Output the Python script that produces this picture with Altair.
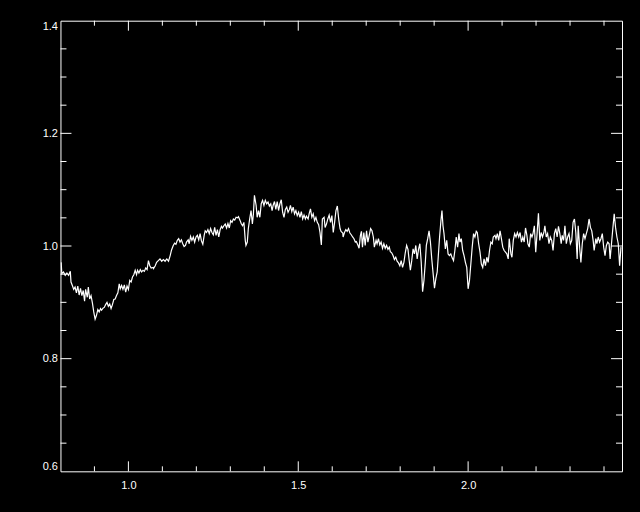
import altair as alt
import pandas as pd

# ---- data (wavelength, relative flux) ----
wl_1 = [0.802,0.804,0.809,0.814,0.819,0.824,0.829,0.831,0.835,0.839,0.843,0.847,0.851,0.855,0.859,0.863,0.867,0.871,0.874,0.879,0.882,0.886,0.890,0.894,0.898,0.902,0.906,0.910,0.914,0.918,0.921,0.926,0.929,0.933,0.937,0.941,0.945,0.949,0.953,0.957,0.961,0.965,0.969,0.973,0.976,0.980,0.984,0.988,0.992,0.996,1.000,1.004,1.008,1.012,1.016,1.020,1.024,1.027,1.031,1.035,1.039,1.043,1.047,1.051,1.055,1.059,1.063,1.067,1.073]
fx_1 = [0.971,0.951,0.954,0.948,0.952,0.948,0.955,0.936,0.930,0.923,0.927,0.917,0.929,0.913,0.925,0.912,0.921,0.902,0.923,0.909,0.927,0.906,0.912,0.899,0.883,0.870,0.877,0.887,0.883,0.889,0.886,0.890,0.891,0.896,0.900,0.893,0.897,0.889,0.896,0.905,0.906,0.912,0.917,0.933,0.924,0.930,0.923,0.931,0.918,0.929,0.923,0.939,0.936,0.945,0.949,0.957,0.949,0.957,0.952,0.958,0.954,0.957,0.955,0.961,0.958,0.974,0.965,0.961,0.962]

wl_2 = [1.074,1.079,1.083,1.088,1.093,1.098,1.103,1.108,1.113,1.118,1.123,1.127,1.132,1.136,1.140,1.144,1.148,1.152,1.156,1.160,1.164,1.168,1.171,1.176,1.179,1.183,1.187,1.191,1.195,1.199,1.203,1.207,1.211,1.215,1.219,1.223,1.226,1.230,1.234,1.238,1.242,1.246,1.250,1.254,1.258,1.262,1.266,1.270,1.274,1.277,1.281,1.285,1.289,1.293,1.297,1.301,1.305,1.309,1.313,1.317,1.321,1.324,1.329,1.332,1.336,1.340,1.344,1.346,1.350]
fx_2 = [0.960,0.965,0.971,0.974,0.977,0.973,0.976,0.973,0.977,0.973,0.983,0.993,1.001,1.005,1.003,1.010,1.013,1.007,1.011,1.004,0.999,1.001,1.007,1.011,1.004,1.017,1.010,1.016,1.007,1.016,1.019,1.011,1.022,1.009,1.003,1.019,1.027,1.024,1.029,1.022,1.031,1.024,1.020,1.033,1.019,1.029,1.016,1.029,1.035,1.032,1.036,1.039,1.032,1.040,1.032,1.045,1.042,1.048,1.046,1.051,1.050,1.052,1.045,1.040,1.036,1.042,1.010,1.001,1.007]

wl_3 = [1.353,1.357,1.361,1.365,1.368,1.371,1.376,1.379,1.383,1.387,1.391,1.395,1.399,1.403,1.407,1.411,1.415,1.419,1.423,1.426,1.430,1.434,1.438,1.442,1.446,1.450,1.454,1.458,1.462,1.466,1.470,1.474,1.477,1.481,1.485,1.489,1.493,1.497,1.501,1.505,1.509,1.513,1.517,1.521,1.524,1.529,1.532,1.536,1.540,1.544,1.548,1.552,1.556,1.560,1.564,1.568,1.571,1.576,1.579,1.583,1.587,1.591,1.595,1.599,1.603,1.607,1.611,1.615,1.619,1.623,1.626,1.631]
fx_3 = [1.031,1.048,1.063,1.039,1.057,1.090,1.072,1.051,1.063,1.051,1.075,1.081,1.072,1.081,1.075,1.078,1.071,1.075,1.063,1.072,1.079,1.065,1.079,1.063,1.075,1.082,1.060,1.051,1.065,1.069,1.060,1.065,1.072,1.061,1.069,1.057,1.063,1.054,1.060,1.051,1.061,1.048,1.055,1.048,1.053,1.048,1.057,1.066,1.051,1.057,1.045,1.051,1.042,1.038,1.024,1.002,1.048,1.051,1.033,1.039,1.048,1.055,1.042,1.054,1.024,1.042,1.063,1.071,1.048,1.031,1.026,1.023]

wl_4 = [1.632,1.636,1.640,1.644,1.648,1.652,1.656,1.660,1.664,1.668,1.671,1.676,1.679,1.683,1.686,1.689,1.693,1.697,1.701,1.705,1.709,1.713,1.717,1.721,1.724,1.729,1.732,1.736,1.740,1.744,1.748,1.752,1.756,1.760,1.764,1.768,1.771,1.775,1.779,1.783,1.787,1.791,1.795,1.799,1.803,1.807,1.811,1.815,1.819,1.823,1.826,1.830,1.834,1.838,1.842,1.846,1.850,1.854,1.858,1.862,1.866,1.870,1.874,1.877,1.881,1.885,1.889,1.893,1.897,1.901,1.905,1.909]
fx_4 = [1.016,1.024,1.029,1.026,1.031,1.023,1.020,1.016,1.013,1.007,1.008,1.001,0.996,1.019,1.026,0.998,1.024,1.001,1.027,1.007,1.019,1.031,1.027,1.016,0.998,1.010,1.004,1.013,1.002,1.007,0.996,1.004,0.996,1.001,0.994,0.998,0.990,0.988,0.983,0.976,0.980,0.973,0.970,0.965,0.974,0.962,0.971,0.988,1.001,0.994,0.977,0.957,0.974,0.995,0.986,1.001,0.977,0.994,1.004,0.971,0.919,0.939,0.971,1.001,1.013,1.027,1.007,0.977,0.951,0.925,0.942,0.954]

wl_5 = [1.912,1.916,1.920,1.923,1.926,1.929,1.933,1.937,1.941,1.945,1.949,1.953,1.957,1.961,1.965,1.969,1.973,1.976,1.980,1.984,1.988,1.992,1.996,2.000,2.004,2.008,2.012,2.016,2.020,2.024,2.027,2.031,2.035,2.039,2.043,2.047,2.051,2.055,2.059,2.063,2.067,2.071,2.074,2.079,2.082,2.086,2.090,2.094,2.098,2.102,2.106,2.110,2.114,2.118,2.121,2.126,2.129,2.133,2.137,2.141,2.145,2.149,2.153,2.157,2.161,2.165,2.169,2.173,2.176,2.180,2.184,2.188]
fx_5 = [0.980,1.016,1.045,1.063,1.036,1.022,0.995,1.010,0.986,0.983,0.986,0.979,0.974,0.992,1.016,0.998,1.022,1.007,1.013,0.992,0.983,0.971,0.962,0.924,0.939,0.968,0.998,1.022,1.016,1.026,1.024,1.004,0.989,0.968,0.962,0.977,0.965,0.980,0.971,0.992,1.007,1.004,1.016,1.019,1.013,1.022,1.010,1.027,1.013,0.998,0.992,0.989,0.986,0.977,1.013,0.986,0.980,1.010,1.022,1.016,1.024,1.016,1.024,1.007,1.016,1.007,1.032,1.019,1.004,0.998,1.022,1.016]

wl_6 = [2.191,2.195,2.199,2.203,2.207,2.211,2.215,2.219,2.223,2.226,2.230,2.234,2.238,2.242,2.246,2.250,2.254,2.258,2.262,2.266,2.270,2.274,2.277,2.281,2.285,2.289,2.293,2.297,2.301,2.305,2.309,2.313,2.317,2.321,2.324,2.329,2.332,2.336,2.340,2.344,2.348,2.352,2.356,2.360,2.364,2.368,2.371,2.376,2.379,2.383,2.387,2.391,2.395,2.399,2.403,2.407,2.411,2.415,2.418,2.422,2.426,2.430,2.434,2.438,2.442,2.446,2.450]
fx_6 = [1.022,1.036,0.989,1.022,1.058,1.010,1.024,1.016,1.024,1.036,1.016,1.022,1.004,1.016,1.010,0.992,1.022,1.031,1.016,1.035,1.022,1.004,1.019,1.010,1.036,1.004,1.016,1.022,1.004,1.010,1.042,1.048,1.024,0.977,1.036,0.992,0.971,1.004,1.022,1.013,1.022,1.031,1.048,1.033,1.027,1.010,0.992,1.013,1.004,1.016,1.007,1.013,1.022,0.998,0.983,1.001,1.007,1.004,0.977,1.004,1.031,1.057,1.033,1.016,1.004,0.965,0.998]

# axis tick values
x_labels = [1.0, 1.5, 2.0]
x_minor = [0.9, 1.1, 1.2, 1.3, 1.4, 1.6, 1.7, 1.8, 1.9, 2.1, 2.2, 2.3, 2.4]
y_labels = [0.6, 0.8, 1.0, 1.2, 1.4]
y_major = [0.8, 1.0, 1.2]
y_minor = [0.65, 0.7, 0.75, 0.85, 0.9, 0.95, 1.05, 1.1, 1.15, 1.25, 1.3, 1.35]

X_DOMAIN = [0.8, 2.453]
Y_DOMAIN = [0.6, 1.4]

W, H = 562, 451
FG = "#ffffff"
BG = "#000000"
FONT = "Liberation Sans"

wl, fx = [], []
for a, b in [(wl_1, fx_1), (wl_2, fx_2), (wl_3, fx_3), (wl_4, fx_4), (wl_5, fx_5), (wl_6, fx_6)]:
    for p, q in zip(a, b):
        wl.append(p)
        fx.append(q)

spec_df = pd.DataFrame({"x": wl, "y": fx})

xscale = alt.Scale(domain=X_DOMAIN, nice=False, zero=False)
yscale = alt.Scale(domain=Y_DOMAIN, nice=False, zero=False)

xaxis = alt.Axis(values=x_labels, format=".1f", title=None, grid=False, ticks=False,
                 domain=False, labelColor=FG, labelFont=FONT, labelFontSize=11,
                 labelPadding=8, labelFlush=False)
yaxis = alt.Axis(values=y_labels, format=".1f", title=None, grid=False, ticks=False,
                 domain=False, labelColor=FG, labelFont=FONT, labelFontSize=11,
                 labelPadding=3, labelFlush=True, labelFlushOffset=0)


def X(field="x"):
    return alt.X(f"{field}:Q", scale=xscale, axis=xaxis)


def Y(field="y"):
    return alt.Y(f"{field}:Q", scale=yscale, axis=yaxis)


line = alt.Chart(spec_df).mark_line(color=FG, strokeWidth=1.2, clip=True).encode(
    x=X(), y=Y()
)


def xticks(values, length):
    df = pd.DataFrame({"x": values})
    bottom = alt.Chart(df).mark_rule(color=FG, strokeWidth=1).encode(
        x=X(), y=alt.value(H), y2=alt.value(H - length))
    top = alt.Chart(df).mark_rule(color=FG, strokeWidth=1).encode(
        x=X(), y=alt.value(0), y2=alt.value(length))
    return [bottom, top]


def yticks(values, length):
    df = pd.DataFrame({"y": values})
    left = alt.Chart(df).mark_rule(color=FG, strokeWidth=1).encode(
        y=Y(), x=alt.value(0), x2=alt.value(length))
    right = alt.Chart(df).mark_rule(color=FG, strokeWidth=1).encode(
        y=Y(), x=alt.value(W), x2=alt.value(W - length))
    return [left, right]


layers = [line] + xticks(x_labels, 10) + xticks(x_minor, 5) + yticks(y_major, 11) + yticks(y_minor, 6)

chart = alt.layer(*layers).properties(
    width=W, height=H,
    autosize=alt.AutoSizeParams(type="none"),
    padding={"left": 52.5, "top": 12.5, "right": 10, "bottom": 33},
    background=BG,
).configure_view(stroke=FG, strokeWidth=1, fill=BG)

# page template identical to the standard one, with a black page background
template = None
try:
    import jinja2
    template = jinja2.Template("""<!DOCTYPE html>
<html>
<head>
  <style>
    html, body { background: #000000; }
    #{{ output_div }}.vega-embed { width: 100%; display: flex; }
    #{{ output_div }}.vega-embed details,
    #{{ output_div }}.vega-embed details summary { position: relative; }
  </style>
  <script type="text/javascript" src="{{ base_url }}/vega@{{ vega_version }}"></script>
  <script type="text/javascript" src="{{ base_url }}/vega-lite@{{ vegalite_version }}"></script>
  <script type="text/javascript" src="{{ base_url }}/vega-embed@{{ vegaembed_version or embed_version }}"></script>
</head>
<body>
  <div id="{{ output_div }}"></div>
  <script>
    (function(vegaEmbed) {
      var spec = {{ spec }};
      var embedOpt = {{ embed_options }};
      vegaEmbed("#{{ output_div }}", spec, embedOpt);
    })(vegaEmbed);
  </script>
</body>
</html>
""")
except Exception:
    template = None

saved = False
if template is not None:
    try:
        chart.save("out.html", embed_options={"renderer": "svg", "actions": False}, template=template)
        saved = True
    except Exception:
        saved = False
if not saved:
    chart.save("out.html", embed_options={"renderer": "svg", "actions": False})
